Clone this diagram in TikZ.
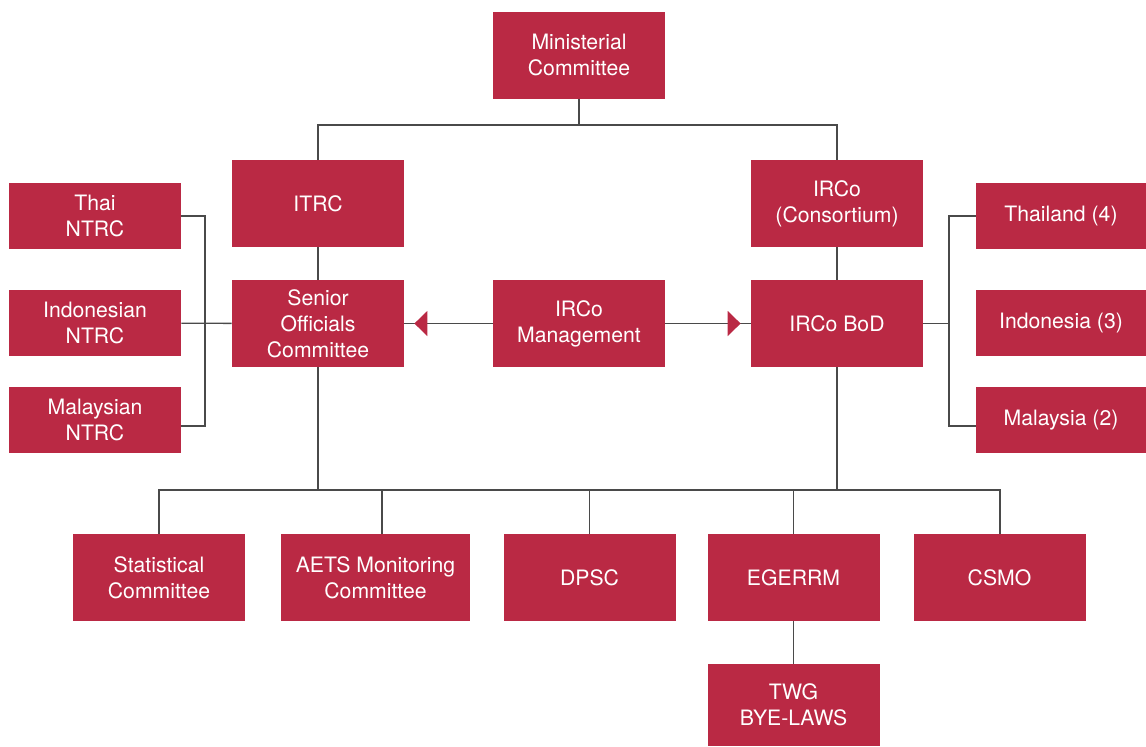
\documentclass[tikz,border=0pt]{standalone}
\usepackage{fontspec}
\setmainfont{TeX Gyre Heros}
\usepackage{xcolor}
\usepackage{tikz}
\usetikzlibrary{arrows.meta,positioning,calc}
\definecolor{aseanred}{HTML}{BA2944}
\definecolor{wire}{HTML}{4A4A4A}
\newcommand\orgfont{\fontsize{10.6}{13}\selectfont}
\tikzset{
  orgbox/.style={
    rectangle, fill=aseanred, text=white,
    minimum width=86pt, minimum height=43.5pt,
    font=\orgfont, align=center,
    inner sep=0pt
  },
  sidebox/.style={
    orgbox, minimum width=#1, minimum height=33pt
  },
  sidebox/.default=86pt,
  link/.style={
    draw=wire, line width=0.7pt
  },
  midarrow/.style={
    link, -{Triangle[length=6.5pt, width=12.5pt, color=aseanred]},
    shorten >=5pt
  },
}

\begin{document}
\begin{tikzpicture}[x=0.5pt, y=0.5pt]
  \useasboundingbox (0,0) rectangle (1146,-746);
  % top levels
  \node[orgbox] (minc) at (579,-55) {Ministerial\\Committee};
  \node[orgbox] (itrc) at (318,-203.5) {ITRC};
  \node[orgbox] (irco) at (837,-203.5) {IRCo\\(Consortium)};
  \node[orgbox] (soc) at (318,-323.5) {Senior\\Officials\\Committee};
  \node[orgbox] (mgmt) at (579,-323.5) {IRCo\\Management};
  \node[orgbox] (bod) at (837,-323.5) {IRCo BoD};
  % national committees and members
  \node[sidebox] (thnt) at (95,-216) {Thai\\NTRC};
  \node[sidebox] (idnt) at (95,-323) {Indonesian\\NTRC};
  \node[sidebox] (mynt) at (95,-420) {Malaysian\\NTRC};
  \node[sidebox=85pt] (thm) at (1061,-216) {Thailand (4)};
  \node[sidebox=85pt] (idm) at (1061,-323) {Indonesia (3)};
  \node[sidebox=85pt] (mym) at (1061,-420) {Malaysia (2)};
  % working bodies
  \node[orgbox] (stat) at (159,-577.5) {Statistical\\Committee};
  \node[orgbox, minimum width=94.5pt] (aets) at (375.5,-577.5) {AETS Monitoring\\Committee};
  \node[orgbox] (dpsc) at (589.5,-577.5) {DPSC};
  \node[orgbox] (eger) at (793.5,-577.5) {EGERRM};
  \node[orgbox] (csmo) at (999.5,-577.5) {CSMO};
  \node[orgbox, minimum height=41pt] (twg) at (793.5,-705) {TWG\\BYE-LAWS};

  \coordinate (topj) at (579,-125);
  \coordinate (lbar) at (205,-216);
  \coordinate (rbar) at (949,-216);
  \coordinate (bus) at (579,-490);

  \draw[link] (minc) -- (topj);
  \draw[link] (itrc.north) |- (topj) -| (irco.north);
  \draw[link] (itrc) -- (soc);
  \draw[link] (irco) -- (bod);

  \draw[link] (thnt.east) -- (thnt.east -| lbar) |- ([yshift=-3pt]mynt.east);
  \draw[link] (idnt) -- (soc);
  \draw[link] (thm.west) -- (thm.west -| rbar) |- ([yshift=-3pt]mym.west);
  \draw[link] (bod) -- (bod -| rbar);

  \draw[link] (mgmt) -- (soc);
  \draw[link] (mgmt) -- (bod);
  \draw[midarrow] (mgmt) -- (soc);
  \draw[midarrow] (mgmt) -- (bod);

  \draw[link] (soc) -- (soc |- bus);
  \draw[link] (bod) -- (bod |- bus);
  \draw[link] (stat.north) |- (bus) -| ([xshift=0.25pt]csmo.north);
  \draw[link] ([xshift=3.25pt]aets.north) -- ([xshift=3.25pt]aets.north |- bus);
  \draw[link] (dpsc) -- (dpsc |- bus);
  \draw[link] (eger) -- (eger |- bus);
  \draw[link] (eger) -- (twg);
\end{tikzpicture}
\end{document}
